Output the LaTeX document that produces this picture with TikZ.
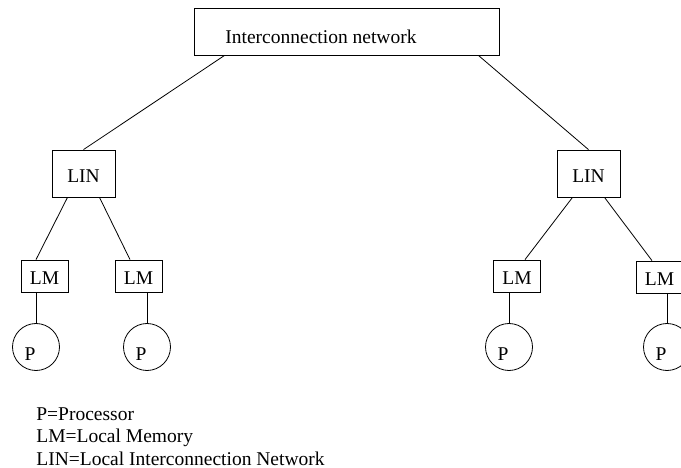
\documentclass[tikz,border=0pt]{standalone}
\usepackage{fontspec}
\setmainfont{Liberation Serif}
\usetikzlibrary{calc}
\begin{document}
\begin{tikzpicture}[x=1pt,y=-1pt, line width=0.8pt,
  font=\fontsize{19.5}{22.5}\selectfont,
  box/.style={draw, rectangle, inner sep=0pt, text height=18pt, text depth=0pt},
  linbox/.style={box, minimum width=63pt, minimum height=47pt},
  lmbox/.style={box, minimum width=47pt, minimum height=32pt},
  proc/.style={draw, circle, inner sep=0pt, minimum size=47pt},
  txt/.style={inner sep=0pt, anchor=base west}]
\useasboundingbox (0,0) rectangle (681,468);
\clip (0,0) rectangle (681,468);
\node[box, minimum width=305pt, minimum height=47pt] (net) at (346.5,31.5) {};
\node[txt] (netlabel) at (225,44) {Interconnection network};
\node[linbox] (lin1) at (83.5,173.5) {LIN};
\node[linbox] (lin2) at (588.5,173.5) {LIN};
\node[lmbox] (lm1) at (44.5,276) {LM};
\node[lmbox] (lm2) at (138.5,276) {LM};
\node[lmbox] (lm3) at (517,276) {LM};
\node[lmbox] (lm4) at (659.5,277) {LM};
\node[proc, label={[xshift=-6pt,yshift=-7pt]center:P}] (p1) at (36,347) {};
\node[proc, label={[xshift=-6pt,yshift=-7pt]center:P}] (p2) at (147,347) {};
\node[proc, label={[xshift=-6pt,yshift=-7pt]center:P}] (p3) at (509,347) {};
\node[proc, label={[xshift=-6pt,yshift=-7pt]center:P}] (p4) at (667,347) {};
\draw ($(net.south west)+(31,0)$) -- (lin1.north);
\draw ($(net.south east)+(-21,0)$) -- (lin2.north);
\draw ($(lin1.south)+(-16,0)$) -- ($(lm1.north)+(-8.5,0)$);
\draw ($(lin1.south)+(16,0)$) -- ($(lm2.north)+(-8.5,0)$);
\draw ($(lin2.south)+(-16,0)$) -- ($(lm3.north)+(8,0)$);
\draw ($(lin2.south)+(16,0)$) -- ($(lm4.north)+(-7.5,0)$);
\draw ($(lm1.south)+(-8.5,0)$) -- (p1.north);
\draw ($(lm2.south)+(8.5,0)$) -- (p2.north);
\draw ($(lm3.south)+(-8,0)$) -- (p3.north);
\draw ($(lm4.south)+(7.5,0)$) -- (p4.north);
\node[txt] (leg1) at (36,420) {P=Processor};
\node[txt] (leg2) at (36,442.5) {LM=Local Memory};
\node[txt] (leg3) at (36,465) {LIN=Local Interconnection Network};
\end{tikzpicture}
\end{document}
